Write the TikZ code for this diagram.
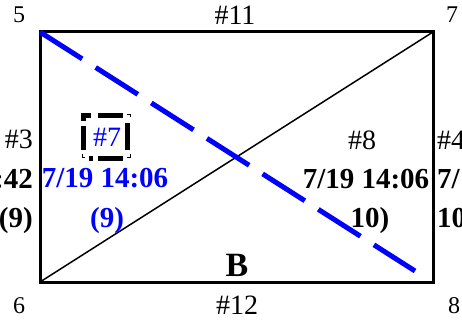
\documentclass[tikz,border=0pt]{standalone}
\usepackage{fontspec}
\setmainfont{Liberation Serif}
\begin{document}
\begin{tikzpicture}[x=1pt,y=-1pt,
  lbl/.style={inner sep=0pt,font=\fontsize{28}{28}\selectfont},
  blbl/.style={inner sep=0pt,font=\fontsize{29}{29}\selectfont\bfseries},
  corner/.style={inner sep=0pt,font=\fontsize{24}{24}\selectfont},
  bluetext/.style={text=blue}]
\useasboundingbox (0,0) rectangle (462,320);
\clip (0,0) rectangle (462,320);
% corners
\coordinate (c5) at (40,32);
\coordinate (c7) at (433,32);
\coordinate (c6) at (40,282);
\coordinate (c8) at (433,282);
\coordinate (bend) at (415,271);
% frame and lines
\draw[line width=3pt] (c5) -- (c7) -- (c8) -- (c6) -- cycle;
\draw[line width=1.5pt] (c6) -- (c7);
\draw[blue,line width=5pt,dash pattern=on 50pt off 16pt] (c5) -- (bend);
% dashed box around #7
\draw[line width=0.8pt] (82,117) -- (82,114) -- (85,114);
\draw[line width=0.8pt] (127,114) -- (130,114) -- (130,117);
\draw[line width=0.8pt] (82,154) -- (82,157) -- (85,157);
\draw[line width=0.8pt] (127,157) -- (130,157) -- (130,154);
\draw[line width=5pt] (83.5,121) -- (83.5,115.5) -- (91,115.5);
\draw[line width=5pt] (98,115.5) -- (123,115.5);
\draw[line width=5pt] (98,158.5) -- (123,158.5);
\draw[line width=5pt] (89,158.5) -- (93,158.5);
\draw[line width=5pt] (83.5,126) -- (83.5,150);
\draw[line width=5pt] (127.5,123) -- (127.5,150);
% corner numbers
\node[corner,anchor=base] (n5) at (19,23) {5};
\node[corner,anchor=base] (n7) at (452,23) {7};
\node[corner,anchor=base] (n6) at (19,313) {6};
\node[corner,anchor=base] (n8) at (454,313) {8};
% edge labels
\node[lbl,anchor=base] (t11) at (235,25) {\#11};
\node[lbl,anchor=base] (t12) at (237,314) {\#12};
\node[inner sep=0pt,font=\fontsize{34}{34}\selectfont\bfseries,anchor=base] (tb) at (237,276) {B};
% left column
\node[lbl,anchor=base east] (t3) at (33,149) {\#3};
\node[blbl,anchor=base east] (t42) at (33,189) {:42};
\node[blbl,anchor=base east] (t9l) at (33,227) {(9)};
% #7 column
\node[lbl,bluetext,anchor=base] (t7) at (107,147) {\#7};
\node[blbl,bluetext,anchor=base] (d7) at (105,188) {7/19 14:06};
\node[blbl,bluetext,anchor=base] (p7) at (107,227) {(9)};
% #8 column
\node[lbl,anchor=base] (t8) at (362,150) {\#8};
\node[blbl,anchor=base] (d8) at (366,189) {7/19 14:06};
\node[blbl,anchor=base] (p8) at (370,227) {10)};
% right column
\node[lbl,anchor=base west] (t4) at (437,150) {\#4};
\node[blbl,anchor=base west] (d4) at (437,189) {7/};
\node[blbl,anchor=base west] (p4) at (437,227) {10};
\end{tikzpicture}
\end{document}
